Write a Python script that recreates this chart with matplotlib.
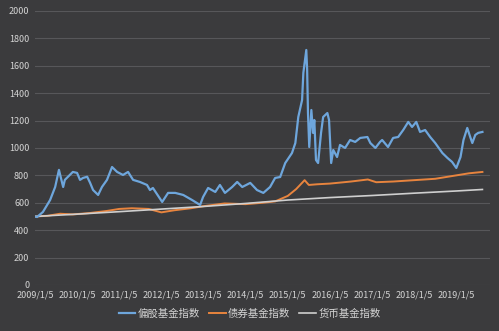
import matplotlib
matplotlib.use("Agg")
import matplotlib.pyplot as plt

# Colores (estilo Excel sobre fondo oscuro).
bg = "#3b3b3d"
grid_color = "#57575a"
text_color = "#d4d4d4"

plt.rcParams["font.family"] = ["Noto Sans CJK SC", "DejaVu Sans"]

# Series (año decimal, valor del índice).
stock_years = [2009.0, 2009.05, 2009.19, 2009.36, 2009.48, 2009.57, 2009.67, 2009.71, 2009.90,
               2010.00, 2010.07, 2010.14, 2010.24, 2010.31, 2010.38, 2010.50, 2010.59, 2010.71,
               2010.83, 2010.95, 2011.09, 2011.21, 2011.33, 2011.49, 2011.66, 2011.73, 2011.80,
               2012.02, 2012.16, 2012.33, 2012.52, 2012.73, 2012.92, 2012.99, 2013.11, 2013.28,
               2013.39, 2013.51, 2013.68, 2013.80, 2013.92, 2014.11, 2014.27, 2014.42, 2014.58,
               2014.70, 2014.82, 2014.94, 2015.10, 2015.18, 2015.25, 2015.34, 2015.37, 2015.44,
               2015.46, 2015.48, 2015.51, 2015.56, 2015.60, 2015.63, 2015.67, 2015.72, 2015.79,
               2015.84, 2015.94, 2015.98, 2016.03, 2016.08, 2016.17, 2016.24, 2016.36, 2016.48,
               2016.60, 2016.72, 2016.89, 2016.96, 2017.08, 2017.19, 2017.24, 2017.38, 2017.50,
               2017.62, 2017.74, 2017.86, 2017.95, 2018.05, 2018.14, 2018.26, 2018.38, 2018.50,
               2018.67, 2018.79, 2018.90, 2019.00, 2019.10, 2019.17, 2019.26, 2019.33, 2019.38,
               2019.45, 2019.52, 2019.62]
stock_vals = [500, 496, 533, 620, 715, 840, 715, 767, 825,
              818, 767, 781, 790, 745, 693, 657, 715, 767,
              861, 825, 803, 825, 767, 752, 730, 693, 708,
              606, 672, 672, 657, 620, 584, 642, 708, 679,
              730, 672, 715, 752, 715, 745, 693, 672, 715,
              781, 788, 890, 963, 1036, 1226, 1350, 1548, 1715,
              1570, 1255, 1007, 1277, 1110, 1204, 912, 890, 1110,
              1226, 1255, 1204, 890, 985, 934, 1022, 1000, 1058,
              1044, 1073, 1080, 1036, 1000, 1044, 1058, 1007, 1073,
              1080, 1131, 1190, 1153, 1190, 1117, 1131, 1080, 1036,
              963, 927, 898, 854, 934, 1058, 1146, 1080, 1036,
              1095, 1110, 1117]

bond_years = [2009.0, 2009.3, 2009.6, 2009.9, 2010.3, 2010.7, 2011.0, 2011.3, 2011.7,
              2012.0, 2012.3, 2012.7, 2013.0, 2013.5, 2014.0, 2014.4, 2014.7, 2015.0,
              2015.2, 2015.4, 2015.5, 2015.7, 2016.0, 2016.5, 2016.9, 2017.1, 2017.5,
              2018.0, 2018.5, 2019.0, 2019.3, 2019.62]
bond_vals = [500, 505, 520, 515, 525, 540, 555, 560, 555,
             530, 545, 560, 575, 595, 590, 600, 610, 650,
             700, 765, 730, 735, 740, 755, 770, 750, 755,
             765, 775, 800, 815, 825]

money_years = [2009.0, 2010.0, 2011.0, 2012.0, 2013.0, 2014.0, 2015.0, 2016.0, 2017.0,
               2018.0, 2019.0, 2019.62]
money_vals = [500, 517, 535, 554, 573, 595, 620, 638, 653, 670, 686, 697]

tick_years = list(range(2009, 2020))
tick_labels = [f"{y}/1/5" for y in tick_years]

fig = plt.figure(figsize=(4.99, 3.31), dpi=100, facecolor=bg)
ax = fig.add_axes([0.070, 0.139, 0.912, 0.828], facecolor=bg)

ax.plot(stock_years, stock_vals, color="#6ea6dc", lw=1.6, label="偏股基金指数", zorder=3)
ax.plot(bond_years, bond_vals, color="#e8843e", lw=1.4, label="债券基金指数", zorder=2)
ax.plot(money_years, money_vals, color="#cfcfcf", lw=1.2, label="货币基金指数", zorder=2)

ax.set_xlim(2009.0, 2019.8)
ax.set_ylim(0, 2000)
ax.set_yticks(range(0, 2001, 200))
ax.set_xticks(tick_years)
ax.set_xticklabels(tick_labels)

ax.grid(axis="y", color=grid_color, lw=0.8)
ax.set_axisbelow(True)
for s in ax.spines.values():
    s.set_visible(False)
ax.tick_params(length=0, colors=text_color, labelsize=6.5, pad=4)

fig.legend(loc="center", bbox_to_anchor=(0.5, 0.053), ncol=3, frameon=False,
           fontsize=7.5, labelcolor=text_color, handlelength=1.6, columnspacing=0.9,
           handletextpad=0.2)

fig.savefig("out.png", dpi=100, facecolor=bg)
